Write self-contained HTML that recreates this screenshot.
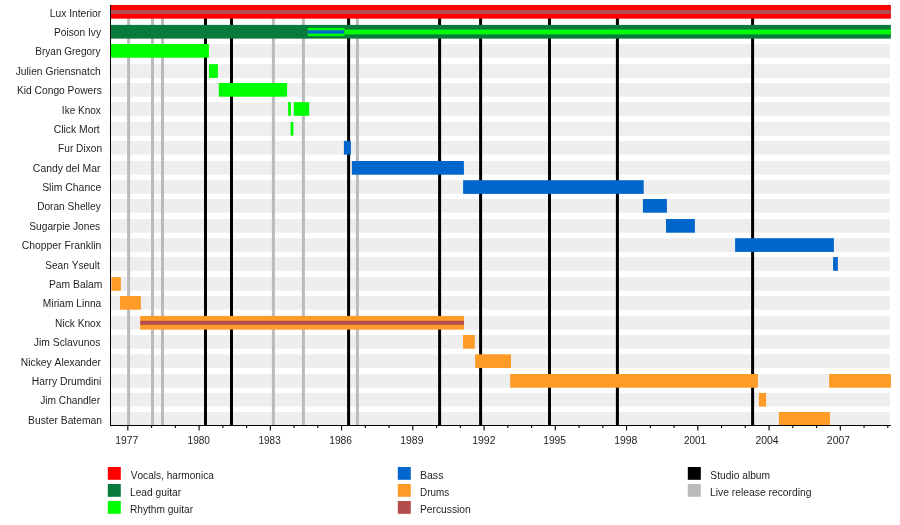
<!DOCTYPE html><html><head><meta charset="utf-8"><style>html,body{margin:0;padding:0;background:#fff;overflow:hidden;}svg{display:block;will-change:transform;}text{font-family:"Liberation Sans",sans-serif;font-kerning:none;}</style></head><body>
<svg width="900" height="525" viewBox="0 0 900 525">
<rect x="0" y="0" width="900" height="525" fill="#fff"/>
<rect x="110.5" y="4.95" width="779.40" height="13.7" fill="#eeeeee"/>
<rect x="110.5" y="24.90" width="779.40" height="13.7" fill="#eeeeee"/>
<rect x="110.5" y="44.00" width="779.40" height="13.7" fill="#eeeeee"/>
<rect x="110.5" y="64.20" width="779.40" height="13.7" fill="#eeeeee"/>
<rect x="110.5" y="83.00" width="779.40" height="13.7" fill="#eeeeee"/>
<rect x="110.5" y="102.10" width="779.40" height="13.7" fill="#eeeeee"/>
<rect x="110.5" y="122.00" width="779.40" height="13.7" fill="#eeeeee"/>
<rect x="110.5" y="140.90" width="779.40" height="13.7" fill="#eeeeee"/>
<rect x="110.5" y="161.00" width="779.40" height="13.7" fill="#eeeeee"/>
<rect x="110.5" y="180.20" width="779.40" height="13.7" fill="#eeeeee"/>
<rect x="110.5" y="199.00" width="779.40" height="13.7" fill="#eeeeee"/>
<rect x="110.5" y="219.00" width="779.40" height="13.7" fill="#eeeeee"/>
<rect x="110.5" y="238.20" width="779.40" height="13.7" fill="#eeeeee"/>
<rect x="110.5" y="257.10" width="779.40" height="13.7" fill="#eeeeee"/>
<rect x="110.5" y="277.10" width="779.40" height="13.7" fill="#eeeeee"/>
<rect x="110.5" y="296.00" width="779.40" height="13.7" fill="#eeeeee"/>
<rect x="110.5" y="315.90" width="779.40" height="13.7" fill="#eeeeee"/>
<rect x="110.5" y="335.00" width="779.40" height="13.7" fill="#eeeeee"/>
<rect x="110.5" y="354.30" width="779.40" height="13.7" fill="#eeeeee"/>
<rect x="110.5" y="374.00" width="779.40" height="13.7" fill="#eeeeee"/>
<rect x="110.5" y="392.90" width="779.40" height="13.7" fill="#eeeeee"/>
<rect x="110.5" y="412.00" width="779.40" height="13.7" fill="#eeeeee"/>
<rect x="127.10" y="5" width="3" height="420" fill="#bbbbbb"/>
<rect x="151.00" y="5" width="3" height="420" fill="#bbbbbb"/>
<rect x="161.00" y="5" width="3" height="420" fill="#bbbbbb"/>
<rect x="271.90" y="5" width="3" height="420" fill="#bbbbbb"/>
<rect x="301.90" y="5" width="3" height="420" fill="#bbbbbb"/>
<rect x="355.90" y="5" width="3" height="420" fill="#bbbbbb"/>
<rect x="204.00" y="5" width="3" height="420" fill="#000000"/>
<rect x="230.00" y="5" width="3" height="420" fill="#000000"/>
<rect x="347.10" y="5" width="3" height="420" fill="#000000"/>
<rect x="438.10" y="5" width="3" height="420" fill="#000000"/>
<rect x="479.10" y="5" width="3" height="420" fill="#000000"/>
<rect x="548.00" y="5" width="3" height="420" fill="#000000"/>
<rect x="615.90" y="5" width="3" height="420" fill="#000000"/>
<rect x="751.10" y="5" width="3" height="420" fill="#000000"/>
<rect x="110.50" y="4.95" width="780.40" height="13.70" fill="#ff0000"/>
<rect x="110.50" y="24.90" width="780.40" height="13.70" fill="#087a3c"/>
<rect x="110.50" y="44.00" width="98.40" height="13.70" fill="#00ff00"/>
<rect x="209.00" y="64.20" width="8.90" height="13.70" fill="#00ff00"/>
<rect x="218.80" y="83.00" width="68.30" height="13.70" fill="#00ff00"/>
<rect x="288.10" y="102.10" width="2.80" height="13.70" fill="#00ff00"/>
<rect x="293.80" y="102.10" width="15.40" height="13.70" fill="#00ff00"/>
<rect x="290.60" y="122.00" width="2.80" height="13.70" fill="#00ff00"/>
<rect x="343.90" y="140.90" width="7.00" height="13.70" fill="#0066cc"/>
<rect x="351.90" y="161.00" width="112.00" height="13.70" fill="#0066cc"/>
<rect x="463.10" y="180.20" width="180.60" height="13.70" fill="#0066cc"/>
<rect x="642.90" y="199.00" width="24.00" height="13.70" fill="#0066cc"/>
<rect x="666.00" y="219.00" width="28.90" height="13.70" fill="#0066cc"/>
<rect x="735.10" y="238.20" width="98.80" height="13.70" fill="#0066cc"/>
<rect x="833.10" y="257.10" width="4.80" height="13.70" fill="#0066cc"/>
<rect x="111.40" y="277.10" width="9.50" height="13.70" fill="#ff9c28"/>
<rect x="120.00" y="296.00" width="20.90" height="13.70" fill="#ff9c28"/>
<rect x="140.20" y="315.90" width="323.80" height="13.70" fill="#ff9c28"/>
<rect x="463.00" y="335.00" width="11.80" height="13.70" fill="#ff9c28"/>
<rect x="475.10" y="354.30" width="35.90" height="13.70" fill="#ff9c28"/>
<rect x="510.20" y="374.00" width="247.70" height="13.70" fill="#ff9c28"/>
<rect x="829.10" y="374.00" width="61.80" height="13.70" fill="#ff9c28"/>
<rect x="758.90" y="392.90" width="7.20" height="13.70" fill="#ff9c28"/>
<rect x="778.90" y="412.00" width="51.10" height="13.00" fill="#ff9c28"/>
<rect x="110.50" y="10.10" width="780.40" height="3.8" fill="#b05055"/>
<rect x="307.80" y="27.80" width="36.80" height="8.3" fill="#00ff00"/>
<rect x="307.80" y="30.30" width="36.60" height="3.3" fill="#0066cc"/>
<rect x="344.60" y="29.60" width="546.30" height="4.8" fill="#00ff00"/>
<rect x="140.20" y="320.80" width="323.80" height="4.0" fill="#b34d4d"/>
<rect x="110" y="5" width="1" height="421" fill="#000"/>
<rect x="110" y="425" width="780.90" height="1" fill="#000"/>
<rect x="127.28" y="425.5" width="1.1" height="5" fill="#000"/>
<rect x="151.03" y="425.5" width="1.1" height="2.5" fill="#000"/>
<rect x="174.78" y="425.5" width="1.1" height="2.5" fill="#000"/>
<rect x="198.53" y="425.5" width="1.1" height="5" fill="#000"/>
<rect x="222.28" y="425.5" width="1.1" height="2.5" fill="#000"/>
<rect x="246.02" y="425.5" width="1.1" height="2.5" fill="#000"/>
<rect x="269.77" y="425.5" width="1.1" height="5" fill="#000"/>
<rect x="293.52" y="425.5" width="1.1" height="2.5" fill="#000"/>
<rect x="317.27" y="425.5" width="1.1" height="2.5" fill="#000"/>
<rect x="341.02" y="425.5" width="1.1" height="5" fill="#000"/>
<rect x="364.77" y="425.5" width="1.1" height="2.5" fill="#000"/>
<rect x="388.52" y="425.5" width="1.1" height="2.5" fill="#000"/>
<rect x="412.27" y="425.5" width="1.1" height="5" fill="#000"/>
<rect x="436.02" y="425.5" width="1.1" height="2.5" fill="#000"/>
<rect x="459.77" y="425.5" width="1.1" height="2.5" fill="#000"/>
<rect x="483.51" y="425.5" width="1.1" height="5" fill="#000"/>
<rect x="507.26" y="425.5" width="1.1" height="2.5" fill="#000"/>
<rect x="531.01" y="425.5" width="1.1" height="2.5" fill="#000"/>
<rect x="554.76" y="425.5" width="1.1" height="5" fill="#000"/>
<rect x="578.51" y="425.5" width="1.1" height="2.5" fill="#000"/>
<rect x="602.26" y="425.5" width="1.1" height="2.5" fill="#000"/>
<rect x="626.01" y="425.5" width="1.1" height="5" fill="#000"/>
<rect x="649.76" y="425.5" width="1.1" height="2.5" fill="#000"/>
<rect x="673.51" y="425.5" width="1.1" height="2.5" fill="#000"/>
<rect x="697.26" y="425.5" width="1.1" height="5" fill="#000"/>
<rect x="721.01" y="425.5" width="1.1" height="2.5" fill="#000"/>
<rect x="744.75" y="425.5" width="1.1" height="2.5" fill="#000"/>
<rect x="768.50" y="425.5" width="1.1" height="5" fill="#000"/>
<rect x="792.25" y="425.5" width="1.1" height="2.5" fill="#000"/>
<rect x="816.00" y="425.5" width="1.1" height="2.5" fill="#000"/>
<rect x="839.75" y="425.5" width="1.1" height="5" fill="#000"/>
<rect x="863.50" y="425.5" width="1.1" height="2.5" fill="#000"/>
<rect x="887.25" y="425.5" width="1.1" height="2.5" fill="#000"/>
<text transform="translate(115.21 444.00) scale(0.9576 1)" font-size="10.8" fill="#1e1e1e">1977</text>
<text transform="translate(187.53 444.00) scale(0.9350 1)" font-size="10.8" fill="#1e1e1e">1980</text>
<text transform="translate(258.54 444.00) scale(0.9239 1)" font-size="10.8" fill="#1e1e1e">1983</text>
<text transform="translate(329.22 444.00) scale(0.9503 1)" font-size="10.8" fill="#1e1e1e">1986</text>
<text transform="translate(400.20 444.00) scale(0.9695 1)" font-size="10.8" fill="#1e1e1e">1989</text>
<text transform="translate(472.20 444.00) scale(0.9709 1)" font-size="10.8" fill="#1e1e1e">1992</text>
<text transform="translate(543.22 444.00) scale(0.9495 1)" font-size="10.8" fill="#1e1e1e">1995</text>
<text transform="translate(614.20 444.00) scale(0.9677 1)" font-size="10.8" fill="#1e1e1e">1998</text>
<text transform="translate(683.90 444.00) scale(0.9235 1)" font-size="10.8" fill="#1e1e1e">2001</text>
<text transform="translate(755.47 444.00) scale(0.9669 1)" font-size="10.8" fill="#1e1e1e">2004</text>
<text transform="translate(826.87 444.00) scale(0.9678 1)" font-size="10.8" fill="#1e1e1e">2007</text>
<text transform="translate(49.76 16.82) scale(0.9882 1)" font-size="10.4" fill="#1e1e1e">Lux Interior</text>
<text transform="translate(53.96 35.80) scale(0.9808 1)" font-size="10.4" fill="#1e1e1e">Poison Ivy</text>
<text transform="translate(35.28 55.39) scale(0.9648 1)" font-size="10.4" fill="#1e1e1e">Bryan Gregory</text>
<text transform="translate(15.74 74.72) scale(0.9871 1)" font-size="10.4" fill="#1e1e1e">Julien Griensnatch</text>
<text transform="translate(16.96 94.11) scale(0.9858 1)" font-size="10.4" fill="#1e1e1e">Kid Congo Powers</text>
<text transform="translate(61.87 113.80) scale(0.9646 1)" font-size="10.4" fill="#1e1e1e">Ike Knox</text>
<text transform="translate(53.77 132.83) scale(0.9952 1)" font-size="10.4" fill="#1e1e1e">Click Mort</text>
<text transform="translate(58.07 152.02) scale(0.9759 1)" font-size="10.4" fill="#1e1e1e">Fur Dixon</text>
<text transform="translate(32.87 171.80) scale(1.0011 1)" font-size="10.4" fill="#1e1e1e">Candy del Mar</text>
<text transform="translate(42.13 190.84) scale(1.0031 1)" font-size="10.4" fill="#1e1e1e">Slim Chance</text>
<text transform="translate(37.17 210.22) scale(0.9744 1)" font-size="10.4" fill="#1e1e1e">Doran Shelley</text>
<text transform="translate(29.24 229.81) scale(0.9843 1)" font-size="10.4" fill="#1e1e1e">Sugarpie Jones</text>
<text transform="translate(21.77 248.85) scale(0.9991 1)" font-size="10.4" fill="#1e1e1e">Chopper Franklin</text>
<text transform="translate(45.24 268.63) scale(0.9724 1)" font-size="10.4" fill="#1e1e1e">Sean Yseult</text>
<text transform="translate(48.95 287.82) scale(0.9959 1)" font-size="10.4" fill="#1e1e1e">Pam Balam</text>
<text transform="translate(42.86 307.06) scale(0.9833 1)" font-size="10.4" fill="#1e1e1e">Miriam Linna</text>
<text transform="translate(55.06 326.64) scale(0.9793 1)" font-size="10.4" fill="#1e1e1e">Nick Knox</text>
<text transform="translate(33.84 345.83) scale(0.9924 1)" font-size="10.4" fill="#1e1e1e">Jim Sclavunos</text>
<text transform="translate(20.85 365.61) scale(0.9912 1)" font-size="10.4" fill="#1e1e1e">Nickey Alexander</text>
<text transform="translate(31.75 384.85) scale(0.9976 1)" font-size="10.4" fill="#1e1e1e">Harry Drumdini</text>
<text transform="translate(40.14 403.73) scale(0.9798 1)" font-size="10.4" fill="#1e1e1e">Jim Chandler</text>
<text transform="translate(28.05 423.62) scale(0.9926 1)" font-size="10.4" fill="#1e1e1e">Buster Bateman</text>
<rect x="107.8" y="467" width="13" height="12.8" fill="#ff0000"/>
<text transform="translate(130.76 478.90) scale(0.9626 1)" font-size="10.5" fill="#1e1e1e">Vocals, harmonica</text>
<rect x="107.8" y="484" width="13" height="12.8" fill="#087a3c"/>
<text transform="translate(129.96 495.90) scale(0.9766 1)" font-size="10.5" fill="#1e1e1e">Lead guitar</text>
<rect x="107.8" y="501" width="13" height="12.8" fill="#00ff00"/>
<text transform="translate(129.97 512.90) scale(0.9670 1)" font-size="10.5" fill="#1e1e1e">Rhythm guitar</text>
<rect x="397.8" y="467" width="13" height="12.8" fill="#0066cc"/>
<text transform="translate(419.93 478.90) scale(1.0089 1)" font-size="10.5" fill="#1e1e1e">Bass</text>
<rect x="397.8" y="484" width="13" height="12.8" fill="#ff9c28"/>
<text transform="translate(419.99 495.90) scale(0.9436 1)" font-size="10.5" fill="#1e1e1e">Drums</text>
<rect x="397.8" y="501" width="13" height="12.8" fill="#b34d4d"/>
<text transform="translate(419.96 512.90) scale(0.9802 1)" font-size="10.5" fill="#1e1e1e">Percussion</text>
<rect x="687.8" y="467" width="13" height="12.8" fill="#000000"/>
<text transform="translate(710.33 478.90) scale(0.9764 1)" font-size="10.5" fill="#1e1e1e">Studio album</text>
<rect x="687.8" y="484" width="13" height="12.8" fill="#bbbbbb"/>
<text transform="translate(709.95 495.90) scale(0.9856 1)" font-size="10.5" fill="#1e1e1e">Live release recording</text>
</svg></body></html>
